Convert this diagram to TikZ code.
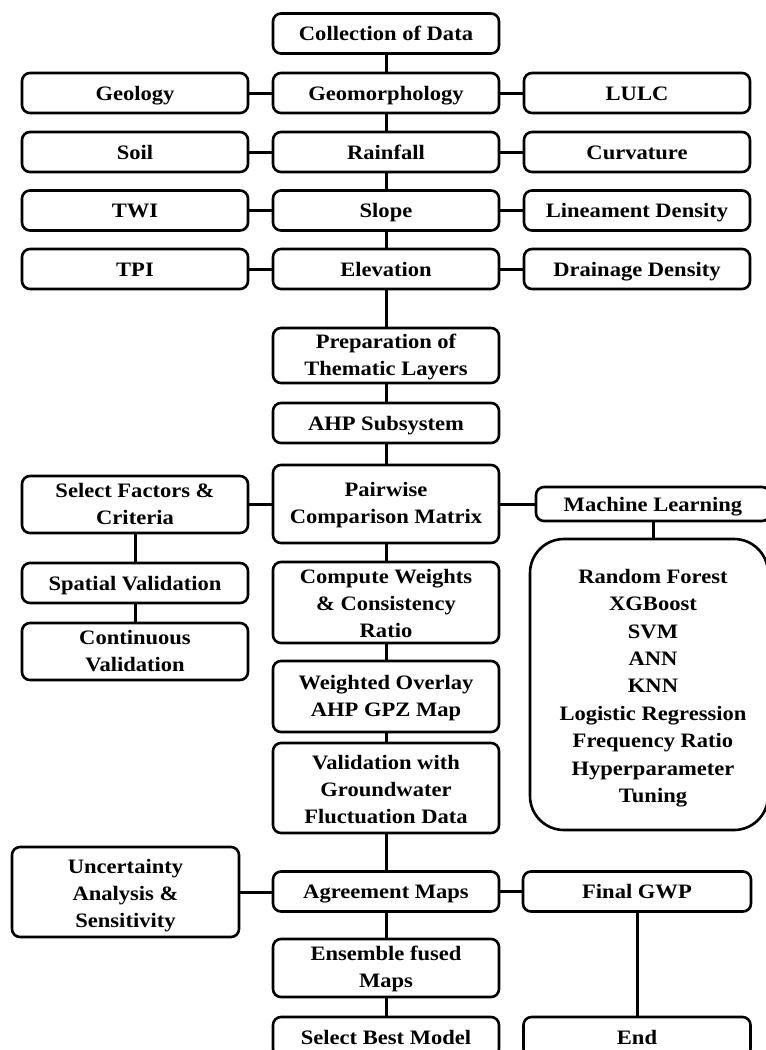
\documentclass[tikz,border=0pt]{standalone}
\usepackage{fontspec}
\setmainfont{Liberation Serif}[FakeStretch=1.1]
\begin{document}
\begin{tikzpicture}[x=1pt,y=-1pt,
  box/.style={draw, line width=2.6pt, rounded corners=8pt, inner sep=0pt, align=center,
    font=\bfseries\fontsize{20.5}{27}\selectfont, minimum height=40pt},
  one/.style={text height=16.5pt, text depth=2.5pt},
  two/.style={text height=41pt, text depth=2pt},
  three/.style={text height=72pt, text depth=2pt},
  cw/.style={minimum width=226pt},
  conn/.style={line width=3pt}]
\useasboundingbox (0,0) rectangle (766,1050);
\fill[white] (0,0) rectangle (766,1050);
\clip (0,0) rectangle (766,1050);
% top rows
\node[box,cw,one] (col) at (386,33.5) {Collection of Data};
\node[box,cw,one] (geo) at (135,93) {Geology};
\node[box,cw,one] (geom) at (386,93) {Geomorphology};
\node[box,cw,one] (lulc) at (637,93) {LULC};
\node[box,cw,one] (soil) at (135,152) {Soil};
\node[box,cw,one] (rain) at (386,152) {Rainfall};
\node[box,cw,one] (curv) at (637,152) {Curvature};
\node[box,cw,one] (twi) at (135,210.5) {TWI};
\node[box,cw,one] (slope) at (386,210.5) {Slope};
\node[box,cw,one] (lin) at (637,210.5) {Lineament Density};
\node[box,cw,one] (tpi) at (135,269) {TPI};
\node[box,cw,one] (elev) at (386,269) {Elevation};
\node[box,cw,one] (drain) at (637,269) {Drainage Density};
% middle
\node[box,cw,two,minimum height=55pt] (prep) at (386,355.5) {Preparation of\\Thematic Layers};
\node[box,cw,one] (ahp) at (386,423) {AHP Subsystem};
\node[box,cw,two,minimum height=78pt] (pair) at (386,504) {Pairwise\\Comparison Matrix};
\node[box,cw,two,minimum height=57pt] (sel) at (135,504.5) {Select Factors \&\\Criteria};
\node[box,one,minimum width=234pt,minimum height=34pt] (ml) at (653,504) {Machine Learning};
\node[box,minimum width=238pt,minimum height=291pt,rounded corners=34pt] (mlbig) at (649,684.5) {};
\node[align=center,font=\bfseries\fontsize{20.5}{27.4}\selectfont] (mllist) at (653,688)
  {Random Forest\\XGBoost\\SVM\\ANN\\KNN\\Logistic Regression\\Frequency Ratio\\Hyperparameter\\Tuning};
\node[box,cw,one] (spat) at (135,583) {Spatial Validation};
\node[box,cw,two,minimum height=57pt] (cont) at (135,651.5) {Continuous\\Validation};
\node[box,cw,three,minimum height=81pt] (comp) at (386,602.5) {Compute Weights\\\& Consistency\\Ratio};
\node[box,cw,two,minimum height=71pt] (wov) at (386,696.5) {Weighted Overlay\\AHP GPZ Map};
\node[box,cw,three,minimum height=90pt] (val) at (386,788) {Validation with\\Groundwater\\Fluctuation Data};
% bottom
\node[box,three,minimum width=227pt,minimum height=90pt] (unc) at (125.5,892) {Uncertainty\\Analysis \&\\Sensitivity};
\node[box,cw,one] (agr) at (386,891.5) {Agreement Maps};
\node[box,one,minimum width=228pt] (fin) at (637,891.5) {Final GWP};
\node[box,cw,two,minimum height=58pt] (ens) at (386,968) {Ensemble fused\\Maps};
\node[box,cw,one] (best) at (386,1037) {Select Best Model};
\node[box,one,minimum width=227pt] (end) at (637,1037) {End};
% connectors
\draw[conn] (col) -- (geom);
\draw[conn] (geom) -- (rain);
\draw[conn] (rain) -- (slope);
\draw[conn] (slope) -- (elev);
\draw[conn] (elev) -- (prep);
\draw[conn] (prep) -- (ahp);
\draw[conn] (ahp) -- (pair);
\draw[conn] (pair) -- (comp);
\draw[conn] (comp) -- (wov);
\draw[conn] (wov) -- (val);
\draw[conn] (val) -- (agr);
\draw[conn] (agr) -- (ens);
\draw[conn] (ens) -- (best);
\draw[conn] (geo) -- (geom);
\draw[conn] (geom) -- (lulc);
\draw[conn] (soil) -- (rain);
\draw[conn] (rain) -- (curv);
\draw[conn] (twi) -- (slope);
\draw[conn] (slope) -- (lin);
\draw[conn] (tpi) -- (elev);
\draw[conn] (elev) -- (drain);
\draw[conn] (sel.east) -- (sel.east -| pair.west);
\draw[conn] (pair) -- (ml);
\draw[conn] (ml.south) -- (ml.south |- mlbig.north);
\draw[conn] (sel) -- (spat);
\draw[conn] (spat) -- (cont);
\draw[conn] (unc.east) -- (unc.east -| agr.west);
\draw[conn] (agr) -- (fin);
\draw[conn] (fin) -- (end);
\end{tikzpicture}
\end{document}
